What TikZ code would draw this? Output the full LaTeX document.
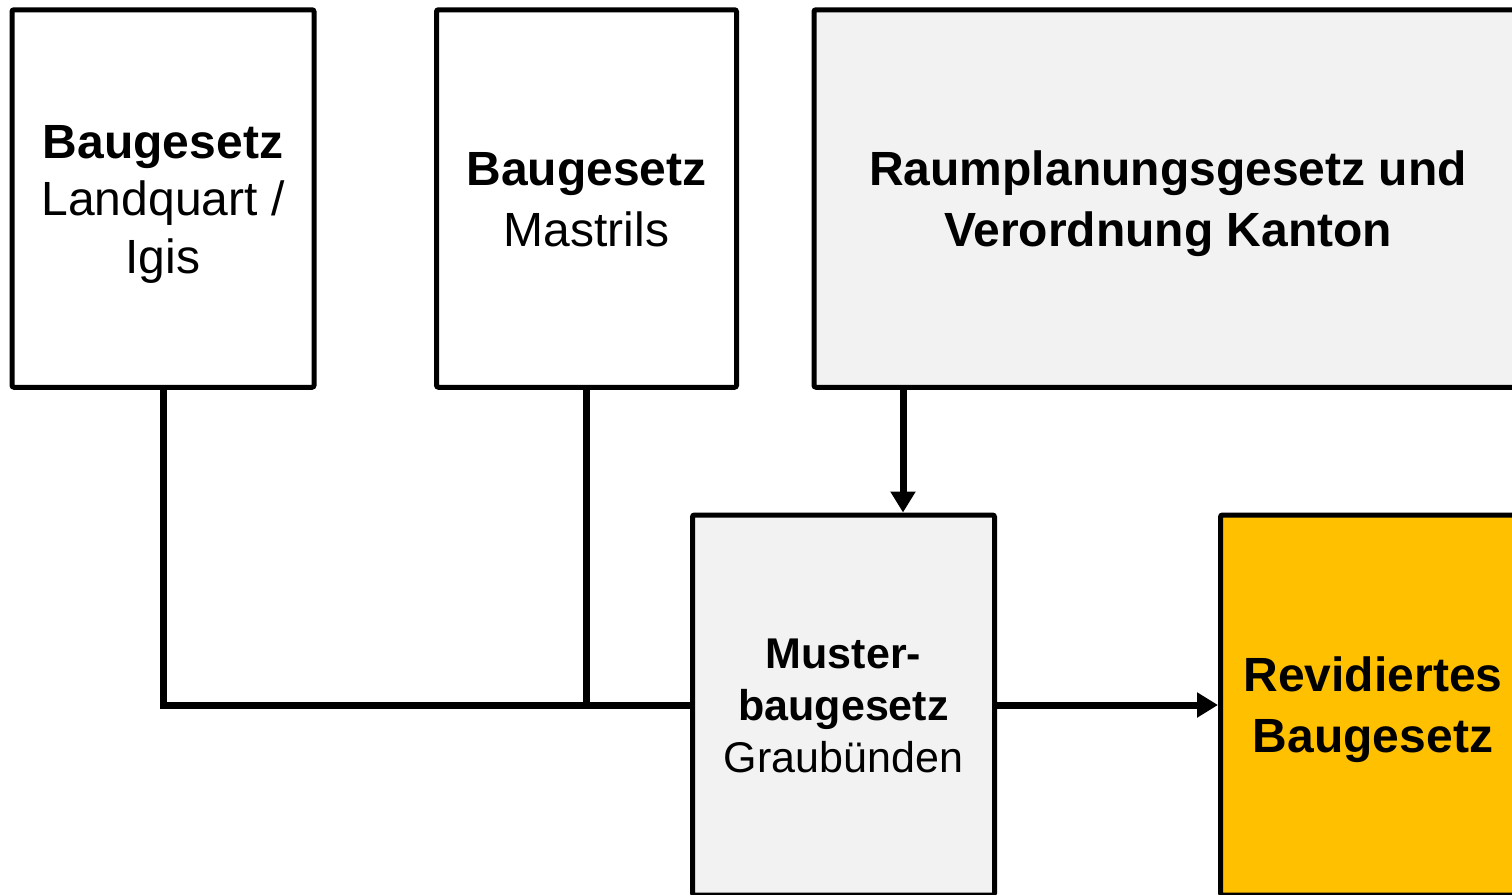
\documentclass[tikz,border=0pt]{standalone}
\usepackage{fontspec}
\setmainfont{Liberation Sans}
\usetikzlibrary{arrows.meta}
\definecolor{lightgrey}{HTML}{F2F2F2}
\definecolor{gold}{HTML}{FFC000}
\newcommand\tstrut{\rule[-0.27em]{0pt}{1.25em}}
\tikzset{
  box/.style={draw=black, line width=5pt, rounded corners=2pt, inner sep=0pt,
    align=center, font=\fontsize{48}{57.5}\selectfont},
  smallbox/.style={box, font=\fontsize{43}{52}\selectfont},
  conn/.style={line width=7pt, black},
  arr/.style={conn, -{Triangle[length=21pt,width=24pt]}}
}
\begin{document}
\begin{tikzpicture}[x=1pt,y=-1pt]
\useasboundingbox (0,0) rectangle (1512,894);
\clip (0,0) rectangle (1512,894);
\fill[white] (0,0) rectangle (1512,894);
\node[box, fill=white, minimum width=302pt, minimum height=377.5pt] (b1) at (163,198.5)
  {\tstrut\textbf{Baugesetz}\\Landquart /\\Igis\tstrut};
\node[box, fill=white, minimum width=300pt, minimum height=377.5pt] (b2) at (586.5,198.5)
  {\tstrut\textbf{Baugesetz}\\Mastrils\tstrut};
\node[box, fill=lightgrey, minimum width=708pt, minimum height=377.5pt] (b3) at (1168,198.5)
  {\tstrut\textbf{Raumplanungsgesetz und}\\\textbf{Verordnung Kanton}\tstrut};
\node[smallbox, fill=lightgrey, minimum width=302pt, minimum height=380pt] (mu) at (843.5,705)
  {\tstrut\textbf{Muster-}\\\textbf{baugesetz}\\Graubünden\tstrut};
\node[box, fill=gold, minimum width=305pt, minimum height=380pt] (rev) at (1373,705)
  {\tstrut\textbf{Revidiertes}\\\textbf{Baugesetz}\tstrut};
\coordinate (k) at (903,0);
\draw[conn] (b1.south) |- (mu.west);
\draw[conn] (b2.south) -- (b2.south |- mu.west);
\draw[arr] (b3.south -| k) -- (mu.north -| k);
\draw[arr] (mu.east) -- (rev.west);
\end{tikzpicture}
\end{document}
